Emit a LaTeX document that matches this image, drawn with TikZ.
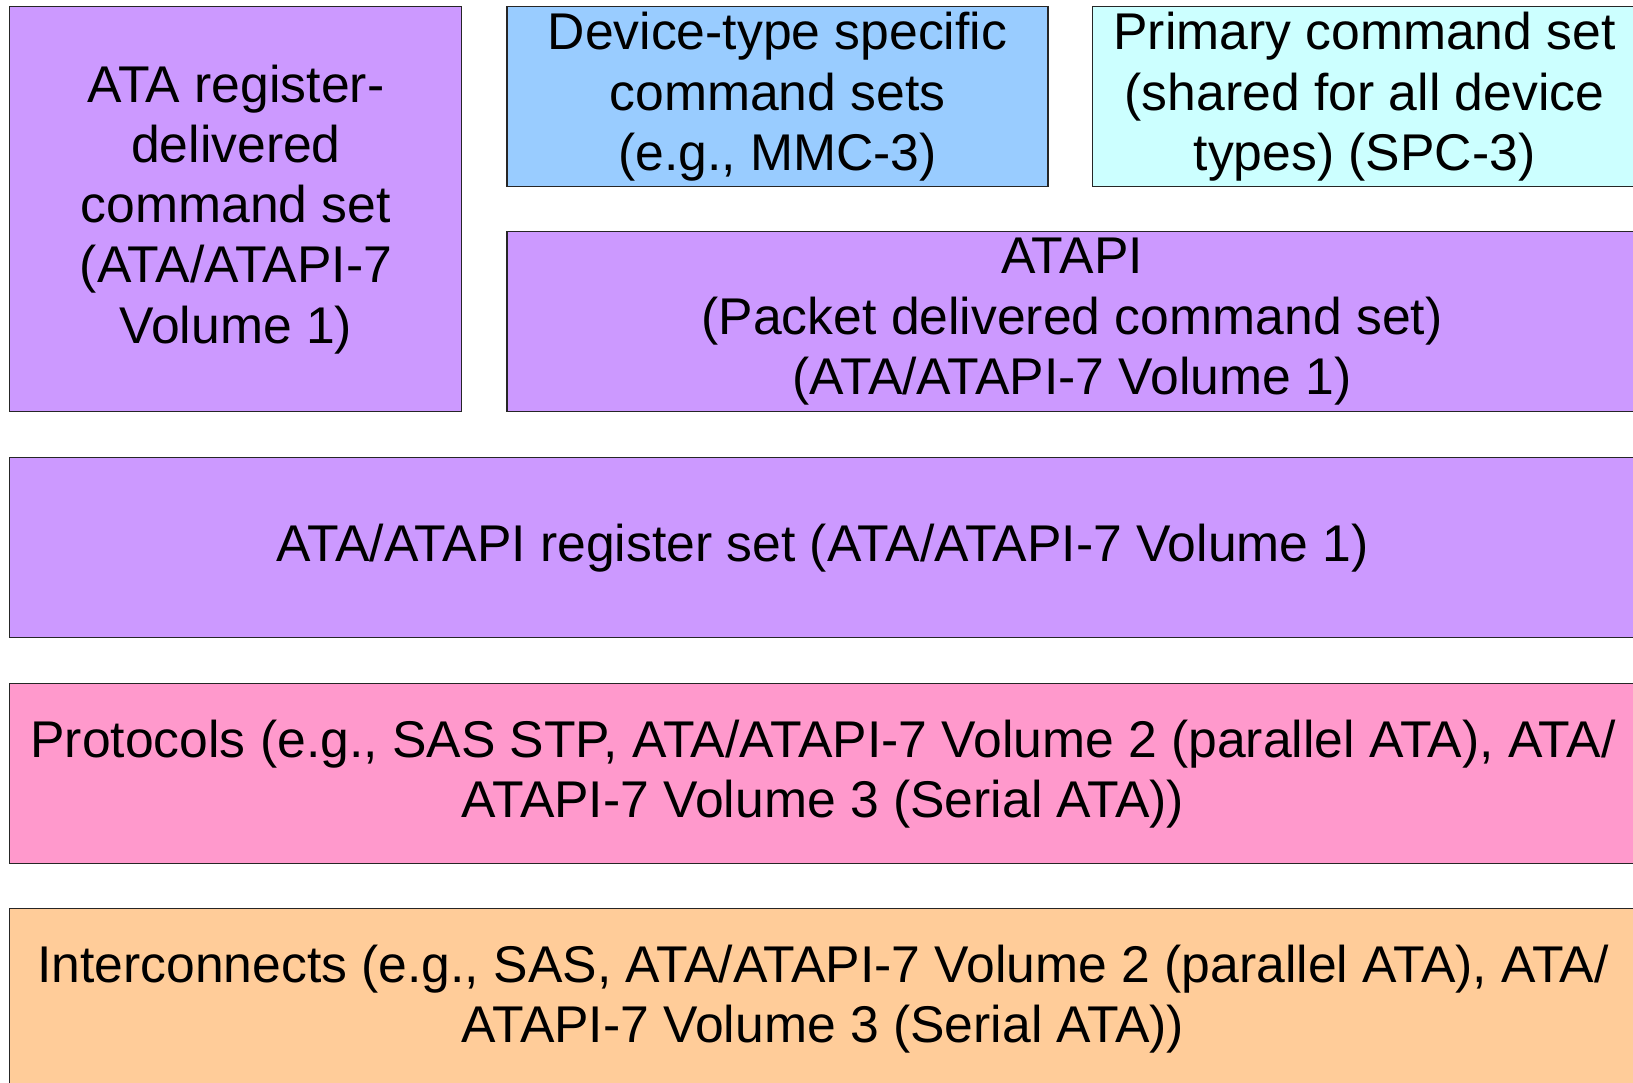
\documentclass[tikz,border=0pt]{standalone}
\usepackage{fontspec}
\setmainfont{Liberation Sans}
\usepackage{tikz}
\usetikzlibrary{positioning}
\definecolor{purpleBoxBg}{RGB}{204, 153, 255}
\definecolor{blueBoxBg}{RGB}{153, 204, 255}
\definecolor{cyanBoxBg}{RGB}{204, 255, 255}
\definecolor{pinkBoxBg}{RGB}{255, 153, 204}
\definecolor{orangeBoxBg}{RGB}{255, 204, 153}
\tikzstyle{basic} = [rectangle, minimum height=3.6cm, inner sep=0pt, align=center, draw=black!85, line width=0.6pt, text=black, font=\fontsize{29.4}{34.3}\selectfont]
\tikzstyle{purplestyle} = [fill=purpleBoxBg]
\tikzstyle{bluestyle} = [fill=blueBoxBg]
\tikzstyle{cyanstyle} = [fill=cyanBoxBg]
\tikzstyle{pinkstyle} = [fill=pinkBoxBg]
\tikzstyle{orangestyle} = [fill=orangeBoxBg]

\begin{document}
\begin{tikzpicture}[node distance=0mm]

\useasboundingbox (0,0) rectangle (32.66,-21.64);
\clip (0,0) rectangle (32.66,-21.64);

\node (atareg) [basic, purplestyle, minimum width=9.04cm, minimum height=8.1cm, anchor=north west] at(0.188,-0.124) {ATA register-\\delivered\\command set\\(ATA/ATAPI-7\\Volume 1)};

\node (devtype) [basic, bluestyle, minimum width=10.82cm, anchor=north west, xshift=0.88cm] at(atareg.north east) {Device-type specific\\command sets\\(e.g., MMC-3)};
\node (primary) [basic, cyanstyle, minimum width=10.9cm, anchor=north west, xshift=0.86cm] at(devtype.north east) {Primary command set\\(shared for all device\\types) (SPC-3)};

\node (atapi) [basic, purplestyle, minimum width=22.6cm, anchor=south west] at(devtype.west |- atareg.south) {ATAPI\\(Packet delivered command set)\\(ATA/ATAPI-7 Volume 1)};

\node (regset) [basic, purplestyle, minimum width=32.52cm, anchor=north west, yshift=-0.9cm] at(atareg.south west) {ATA/ATAPI register set (ATA/ATAPI-7 Volume 1)};
\node (protocols) [basic, pinkstyle, minimum width=32.52cm, anchor=north west, yshift=-0.9cm] at(regset.south west) {Protocols (e.g., SAS STP, ATA/ATAPI-7 Volume 2 (parallel ATA), ATA/\\ATAPI-7 Volume 3 (Serial ATA))};
\node (interconnects) [basic, orangestyle, minimum width=32.52cm, anchor=north west, yshift=-0.88cm] at(protocols.south west) {Interconnects (e.g., SAS, ATA/ATAPI-7 Volume 2 (parallel ATA), ATA/\\ATAPI-7 Volume 3 (Serial ATA))};

\end{tikzpicture}
\end{document}
